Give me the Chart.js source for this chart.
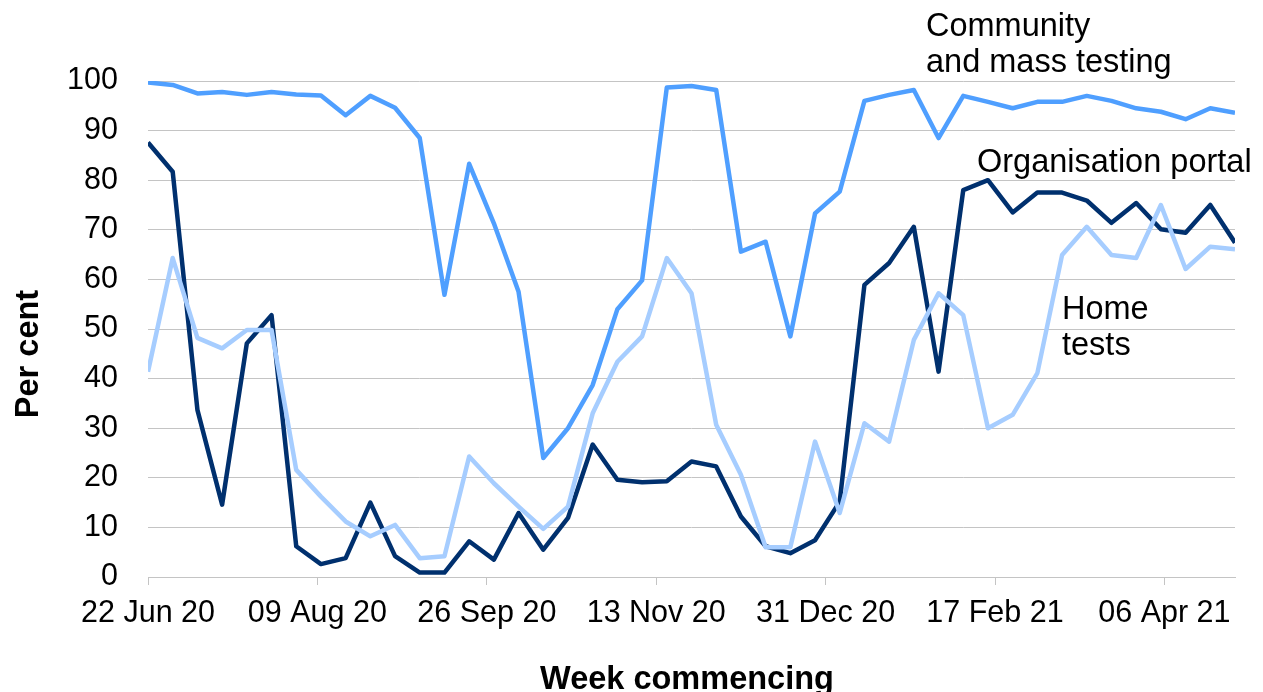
<!DOCTYPE html>
<html>
<head>
<meta charset="utf-8">
<script src="https://cdn.jsdelivr.net/npm/chart.js@4/dist/chart.umd.min.js"></script>
<style>
  html, body { margin: 0; padding: 0; background: #ffffff; }
  #wrap { width: 1263px; height: 692px; }
</style>
</head>
<body>
<div id="wrap"><canvas id="c" width="1263" height="692"></canvas></div>
<script>
// Week commencing dates (categories)
const weekCommencing = [
  '2020-06-22','2020-06-29','2020-07-06','2020-07-13','2020-07-20','2020-07-27',
  '2020-08-03','2020-08-10','2020-08-17','2020-08-24','2020-08-31',
  '2020-09-07','2020-09-14','2020-09-21','2020-09-28',
  '2020-10-05','2020-10-12','2020-10-19','2020-10-26',
  '2020-11-02','2020-11-09','2020-11-16','2020-11-23','2020-11-30',
  '2020-12-07','2020-12-14','2020-12-21','2020-12-28',
  '2021-01-04','2021-01-11','2021-01-18','2021-01-25',
  '2021-02-01','2021-02-08','2021-02-15','2021-02-22',
  '2021-03-01','2021-03-08','2021-03-15','2021-03-22','2021-03-29',
  '2021-04-05','2021-04-12','2021-04-19','2021-04-26'
];

// Series values (per cent)
const communityMassTesting = [
  99.7, 99.2, 97.5, 97.8, 97.2, 97.8, 97.3, 97.1, 93.1, 97.0,
  94.6, 88.5, 56.9, 83.3, 71.3, 57.5, 24.0, 30.0, 38.7, 54.0,
  59.8, 98.7, 99.0, 98.2, 65.6, 67.6, 48.5, 73.3, 77.7, 96.0,
  97.2, 98.2, 88.5, 97.0, 95.8, 94.5, 95.8, 95.8, 97.0, 96.0,
  94.5, 93.8, 92.3, 94.5, 93.6
];
const organisationPortal = [
  87.6, 81.7, 33.7, 14.6, 47.1, 52.8, 6.2, 2.6, 3.8, 15.0,
  4.2, 0.9, 0.9, 7.2, 3.5, 12.9, 5.5, 11.9, 26.7, 19.6,
  19.1, 19.3, 23.3, 22.3, 12.2, 6.2, 4.8, 7.4, 15.2, 58.9,
  63.3, 70.6, 41.4, 78.0, 80.0, 73.5, 77.5, 77.5, 75.9, 71.4,
  75.4, 70.1, 69.4, 75.0, 67.4
];
const homeTests = [
  41.4, 64.3, 48.2, 46.1, 49.8, 49.8, 21.6, 16.2, 11.2, 8.2,
  10.5, 3.8, 4.2, 24.3, 18.9, 14.2, 9.7, 14.2, 33.0, 43.4,
  48.5, 64.3, 57.2, 30.7, 20.6, 6.0, 6.0, 27.3, 12.9, 31.0,
  27.3, 47.8, 57.2, 52.8, 30.0, 32.7, 41.1, 64.9, 70.6, 64.9,
  64.3, 75.0, 62.1, 66.6, 66.1
];

// Tick labels on the date axis
const tickDates = ['2020-06-22','2020-08-09','2020-09-26','2020-11-13','2020-12-31','2021-02-17','2021-04-06'];
const tickLabels = ['22 Jun 20','09 Aug 20','26 Sep 20','13 Nov 20','31 Dec 20','17 Feb 21','06 Apr 21'];

const FONT = '"Liberation Sans", Arial, Helvetica, sans-serif';
const DAY = 86400000;
const t0 = Date.parse(weekCommencing[0]);
const dayOf = s => Math.round((Date.parse(s) - t0) / DAY);
const weekDays = weekCommencing.map(dayOf);
const tickDays = tickDates.map(dayOf);
const toPts = arr => arr.map((v, i) => ({ x: weekDays[i], y: v }));

const GRID = '#c4c4c4';

const annotations = {
  id: 'annotations',
  afterDraw(chart) {
    const ctx = chart.ctx;
    ctx.save();
    ctx.fillStyle = '#000000';
    ctx.textAlign = 'left';
    ctx.textBaseline = 'alphabetic';
    ctx.font = '32.5px ' + FONT;
    ctx.fillText('Community', 926, 36);
    ctx.fillText('and mass testing', 926, 72);
    ctx.fillText('Organisation portal', 977, 172);
    ctx.fillText('Home', 1062, 319);
    ctx.fillText('tests', 1062, 355);
    // axis titles
    ctx.font = 'bold 32.5px ' + FONT;
    ctx.textAlign = 'center';
    ctx.fillText('Week commencing', 687, 689);
    ctx.translate(38, 354);
    ctx.rotate(-Math.PI / 2);
    ctx.fillText('Per cent', 0, 0);
    ctx.restore();
  }
};

new Chart(document.getElementById('c'), {
  type: 'line',
  data: {
    datasets: [
      { label: 'Home tests', data: toPts(homeTests), borderColor: '#a6cdff', borderWidth: 4.5, pointRadius: 0, tension: 0, borderJoinStyle: 'round' },
      { label: 'Organisation portal', data: toPts(organisationPortal), borderColor: '#00306e', borderWidth: 4.5, pointRadius: 0, tension: 0, borderJoinStyle: 'round' },
      { label: 'Community and mass testing', data: toPts(communityMassTesting), borderColor: '#4f9fff', borderWidth: 4.5, pointRadius: 0, tension: 0, borderJoinStyle: 'round' }
    ]
  },
  options: {
    responsive: false,
    animation: false,
    devicePixelRatio: 1,
    layout: { padding: { left: 0, right: 28, top: 81, bottom: 0 } },
    plugins: { legend: { display: false }, tooltip: { enabled: false } },
    scales: {
      x: {
        type: 'linear',
        min: 0,
        max: weekDays[weekDays.length - 1],
        afterBuildTicks: s => { s.ticks = tickDays.map(v => ({ value: v })); },
        afterFit: s => { s.height = 115; },
        ticks: {
          autoSkip: false,
          maxRotation: 0,
          minRotation: 0,
          padding: 10,
          color: '#000000',
          font: { family: FONT, size: 30.5 },
          callback: v => tickLabels[tickDays.indexOf(v)]
        },
        grid: { drawOnChartArea: false, drawTicks: true, tickLength: 8, color: GRID, lineWidth: 1 },
        border: { display: true, color: GRID, width: 1 }
      },
      y: {
        min: 0,
        max: 100,
        afterFit: s => { s.width = 148; },
        ticks: {
          stepSize: 10,
          padding: 30,
          color: '#000000',
          font: { family: FONT, size: 30.5 }
        },
        grid: { drawTicks: false, color: GRID, lineWidth: 1 },
        border: { display: false }
      }
    }
  },
  plugins: [annotations]
});
</script>
</body>
</html>
